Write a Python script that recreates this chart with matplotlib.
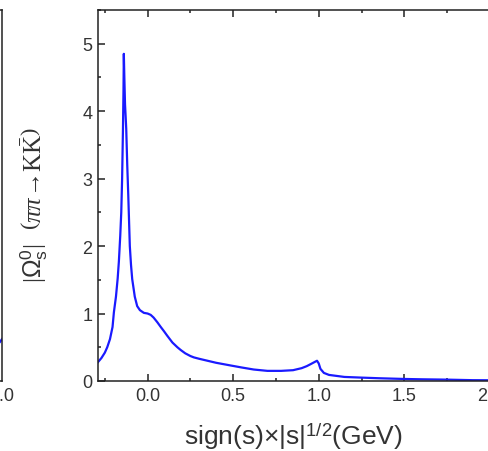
import matplotlib
matplotlib.use('Agg')
import matplotlib.pyplot as plt
from matplotlib.ticker import MultipleLocator, FormatStrFormatter

plt.rcParams['font.family'] = ['Liberation Sans', 'DejaVu Sans']
plt.rcParams['mathtext.fontset'] = 'custom'
plt.rcParams['mathtext.rm'] = 'Liberation Serif'
plt.rcParams['mathtext.it'] = 'Liberation Serif:italic'
plt.rcParams['mathtext.sf'] = 'Liberation Sans'

# |Omega_s^0| (pi pi -> K Kbar)
sqrt_s = [-0.29, -0.27, -0.25, -0.236, -0.22, -0.205, -0.197, -0.185,
          -0.175, -0.168, -0.16, -0.154, -0.149, -0.144, -0.141, -0.139,
          -0.136, -0.132, -0.128, -0.125, -0.119, -0.113, -0.104, -0.097,
          -0.09, -0.075, -0.061, -0.045, -0.022, 0.0, 0.018, 0.035, 0.057,
          0.077, 0.095, 0.115, 0.145, 0.174, 0.193, 0.22, 0.25, 0.27, 0.30,
          0.35, 0.40, 0.485, 0.55, 0.62, 0.70, 0.78, 0.85, 0.90, 0.93,
          0.953, 0.975, 0.99, 1.0, 1.01, 1.03, 1.06, 1.09, 1.15, 1.25,
          1.36, 1.5, 1.6, 1.75, 1.9, 2.06]
omega = [0.28, 0.34, 0.42, 0.50, 0.62, 0.80, 1.02, 1.25,
         1.52, 1.77, 2.15, 2.5, 3.0, 3.74, 4.3, 4.85,
         4.5, 4.1, 3.9, 3.74, 3.2, 2.75, 2.0, 1.72,
         1.51, 1.25, 1.11, 1.05, 1.01, 1.0, 0.98, 0.94, 0.87,
         0.80, 0.74, 0.67, 0.57, 0.50, 0.46, 0.41, 0.37, 0.35, 0.33,
         0.30, 0.27, 0.23, 0.20, 0.17, 0.15, 0.15, 0.16, 0.19, 0.22,
         0.25, 0.28, 0.30, 0.26, 0.18, 0.12, 0.09, 0.08, 0.06, 0.05,
         0.04, 0.03, 0.025, 0.02, 0.012, 0.01]

# neighbouring panel, only its right edge is visible
left_x = [1.99, 2.0]
left_y = [0.58, 0.62]

BLUE = '#1a1aff'
TICK_C = '#333333'
SPINE_C = '#222222'

fig = plt.figure(figsize=(4.88, 4.52), dpi=100)

ax0 = fig.add_axes([-0.8, 0.1549, 0.804, 0.8208])
ax0.plot(left_x, left_y, color=BLUE, lw=1.6)
ax0.set_xlim(0.0, 2.0)
ax0.set_ylim(0, 5.5)
ax0.set_xticks([2.0])
ax0.set_xticklabels(['2.0'])
ax0.set_yticks([])
ax0.tick_params(axis='x', direction='in', length=0, labelsize=13,
                labelcolor=TICK_C, pad=4)
for sp in ax0.spines.values():
    sp.set_linewidth(1.1)
    sp.set_color(SPINE_C)

ax = fig.add_axes([0.2008, 0.1549, 0.824, 0.8208])
ax.plot(sqrt_s, omega, color=BLUE, lw=1.6)
ax.set_xlim(-0.29, 2.06)
ax.set_ylim(0, 5.5)
ax.xaxis.set_major_locator(MultipleLocator(0.5))
ax.xaxis.set_minor_locator(MultipleLocator(0.25))
ax.yaxis.set_major_locator(MultipleLocator(1))
ax.yaxis.set_minor_locator(MultipleLocator(0.5))
ax.xaxis.set_major_formatter(FormatStrFormatter('%.1f'))
ax.tick_params(which='both', direction='in', top=True, right=False,
               labelsize=13, labelcolor=TICK_C, width=1.1, color=SPINE_C)
ax.tick_params(which='major', length=5, pad=4)
ax.tick_params(which='minor', length=2.5)
for sp in ax.spines.values():
    sp.set_linewidth(1.1)
    sp.set_color(SPINE_C)

fig.text(0.602, 0.033, r'sign(s)×|s|$^{\mathsf{1/2}}$(GeV)', ha='center',
         va='center', fontsize=19, color=TICK_C)
fig.text(0.070, 0.546,
         r'$|\mathsf{\Omega}^{\mathsf{0}}_{\mathsf{s}}|$  '
         r'$\left(\pi\pi\!\rightarrow\!{\rm K}\bar{\rm K}\right)$',
         rotation=90, ha='center', va='center', fontsize=18, color=TICK_C)

fig.savefig('out.png', dpi=100)
